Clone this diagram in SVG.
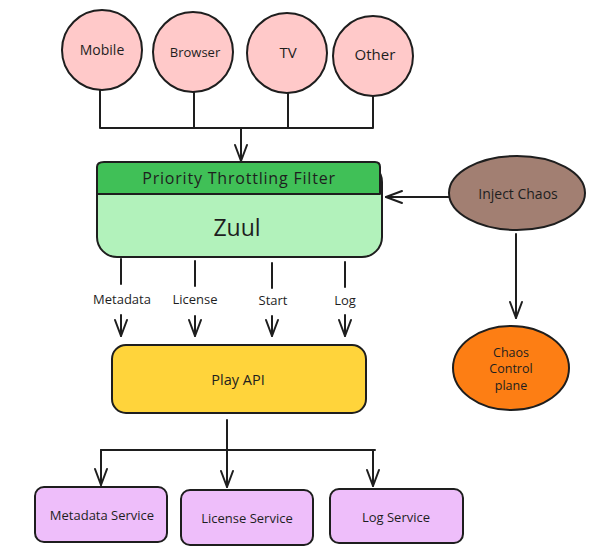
<svg xmlns="http://www.w3.org/2000/svg" width="593" height="547" viewBox="0 0 593 547">
<style>
  .stroke { stroke: #1e1e1e; stroke-width: 2; stroke-linejoin: round; stroke-linecap: round; }
  .line { fill: none; stroke: #1e1e1e; stroke-width: 2; stroke-linecap: round; }
  .t { font-family: "Open Sans", "Liberation Sans", sans-serif; fill: #1e1e1e; text-anchor: middle; dominant-baseline: central; }
  .client { fill: #ffc9c9; }
  .svc { fill: #eebefa; }
</style>
<defs>
  <marker id="arr" viewBox="0 0 20 20" refX="18" refY="10" markerWidth="20" markerHeight="20" markerUnits="userSpaceOnUse" orient="auto">
    <polyline points="2,4 18,10 2,16" fill="none" stroke="#1e1e1e" stroke-width="2" stroke-linecap="round" stroke-linejoin="round"/>
  </marker>
</defs>
<rect width="593" height="547" fill="#ffffff"/>

<g id="connectors">
  <path class="line" d="M100,90 V128 M194,92 V128 M288,93 V128 M373,96 V128 M100,128 H373"/>
  <path class="line" d="M241,128 V161" marker-end="url(#arr)"/>
  <path class="line" d="M121,259 V284"/>
  <path class="line" d="M121,315 V336" marker-end="url(#arr)"/>
  <path class="line" d="M195,261 V286"/>
  <path class="line" d="M195,316 V336" marker-end="url(#arr)"/>
  <path class="line" d="M272,263 V288"/>
  <path class="line" d="M272,316 V336" marker-end="url(#arr)"/>
  <path class="line" d="M345,262 V287"/>
  <path class="line" d="M345,315 V336" marker-end="url(#arr)"/>
  <path class="line" d="M227,420 V450 M101,450 H375"/>
  <path class="line" d="M101,450 V485" marker-end="url(#arr)"/>
  <path class="line" d="M227,450 V487" marker-end="url(#arr)"/>
  <path class="line" d="M373,450 V486" marker-end="url(#arr)"/>
  <path class="line" d="M449,197 H386" marker-end="url(#arr)"/>
  <path class="line" d="M516,234 V318" marker-end="url(#arr)"/>
  <text class="t" x="122" y="299" font-size="13">Metadata</text>
  <text class="t" x="195" y="299" font-size="13">License</text>
  <text class="t" x="273" y="300" font-size="13">Start</text>
  <text class="t" x="345" y="300" font-size="13">Log</text>
</g>

<g id="mobile">
  <circle class="client stroke" cx="102" cy="50" r="40"/>
  <text class="t" x="102" y="49" font-size="14">Mobile</text>
</g>
<g id="browser">
  <circle class="client stroke" cx="193" cy="52" r="40"/>
  <text class="t" x="195" y="52" font-size="13">Browser</text>
</g>
<g id="tv">
  <circle class="client stroke" cx="287" cy="53" r="40"/>
  <text class="t" x="288" y="52" font-size="15">TV</text>
</g>
<g id="other">
  <circle class="client stroke" cx="373" cy="56" r="40"/>
  <text class="t" x="375" y="54" font-size="15">Other</text>
</g>

<g id="zuul">
  <rect class="stroke" x="97" y="162" width="285" height="95" rx="20" fill="#b2f2bb"/>
  <text class="t" x="237" y="227" font-size="23">Zuul</text>
</g>
<g id="priority-throttling-filter">
  <path class="stroke" d="M104,162 H375 Q380,162 380,167 V194 H97 V167 Q97,162 104,162 Z" fill="#40c057"/>
  <text class="t" x="239" y="178" font-size="16" letter-spacing="0.8">Priority Throttling Filter</text>
</g>

<g id="inject-chaos">
  <ellipse class="stroke" cx="517" cy="193" rx="68" ry="37" fill="#a27f72"/>
  <text class="t" x="518" y="193" font-size="14">Inject Chaos</text>
</g>
<g id="chaos-control-plane">
  <ellipse class="stroke" cx="511" cy="368" rx="58" ry="42" fill="#fd7e14"/>
  <text class="t" x="511" y="352" font-size="12.5">Chaos</text>
  <text class="t" x="511" y="368" font-size="12.5">Control</text>
  <text class="t" x="511" y="385" font-size="12.5">plane</text>
</g>

<g id="play-api">
  <rect class="stroke" x="112" y="345" width="254" height="68" rx="14" fill="#ffd43b"/>
  <text class="t" x="238" y="379" font-size="14.5">Play API</text>
</g>

<g id="metadata-service">
  <rect class="svc stroke" x="35" y="487" width="132" height="55" rx="9"/>
  <text class="t" x="102" y="515" font-size="13">Metadata Service</text>
</g>
<g id="license-service">
  <rect class="svc stroke" x="181" y="490" width="132" height="55" rx="9"/>
  <text class="t" x="247" y="518" font-size="13">License Service</text>
</g>
<g id="log-service">
  <rect class="svc stroke" x="330" y="489" width="133" height="54" rx="9"/>
  <text class="t" x="396" y="517" font-size="13">Log Service</text>
</g>
</svg>
